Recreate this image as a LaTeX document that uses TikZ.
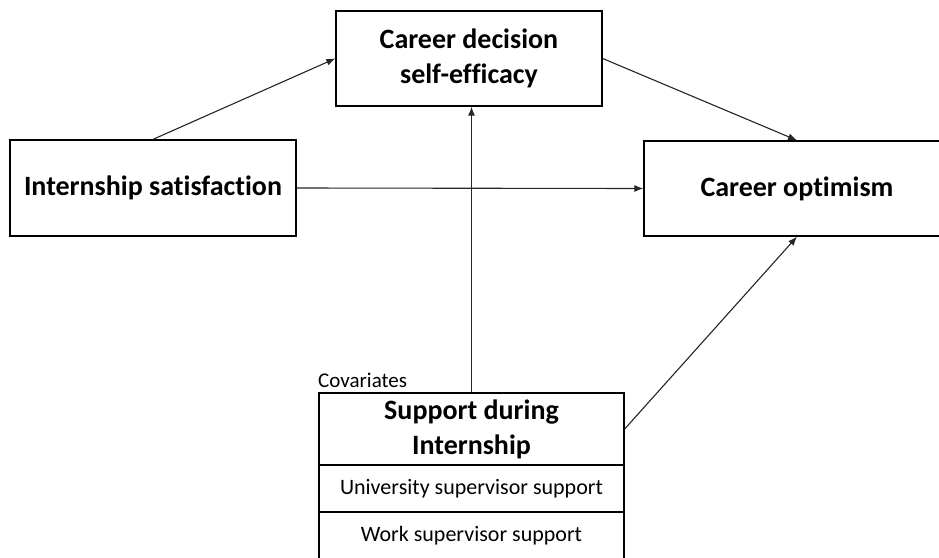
\documentclass[tikz,border=0pt]{standalone}
\usepackage{fontspec}
\setmainfont{Carlito}[Ligatures=NoCommon]
\usepackage{tikz}
\usetikzlibrary{arrows.meta}

\begin{document}
\begin{tikzpicture}[x=1pt,y=-1pt]
  \tikzstyle{lien}=[-{Latex[length=9pt,width=7pt]},line width=1.1pt,draw=black!85]
\tikzset{bloc/.style={draw,line width=1.3pt,align=center,inner sep=0pt,
font=\bfseries\fontsize{28}{35}\selectfont},
ligne/.style={draw,line width=1.3pt,inner sep=0pt,minimum width=305pt,
font=\fontsize{22}{26}\selectfont}}
\clip (0,0) rectangle (939,557);
\fill[white] (0,0) rectangle (939,557);

\node[bloc,minimum width=266pt,minimum height=95pt] (A) at (469,58.5){Career decision\\self-efficacy};
\node[bloc,minimum width=286pt,minimum height=96pt] (B) at (153,188){Internship satisfaction};
\node[bloc,minimum width=306pt,minimum height=95pt] (C) at (797,188.5){Career optimism};

% covariables
\node[bloc,minimum width=305pt,minimum height=72pt] (D) at (471.5,429){Support during\\Internship};
\node[ligne,minimum height=47pt] (D1) at (471.5,488.5){University supervisor support};
\node[ligne,minimum height=47pt] (D2) at (471.5,535.5){Work supervisor support};
\node[font=\fontsize{21}{24}\selectfont,anchor=south west,inner sep=0pt] (cov) at (318,388){Covariates};

\draw[lien] (B.north) -- (A.west);
\draw[lien] (A.east) -- (C.north);
\draw[lien] (B.east) -- (C.west);
\draw[lien] (D.north) -- (D.north |- A.south);
\draw[lien] (D.east) -- (C.south);

  \end{tikzpicture}
\end{document}
